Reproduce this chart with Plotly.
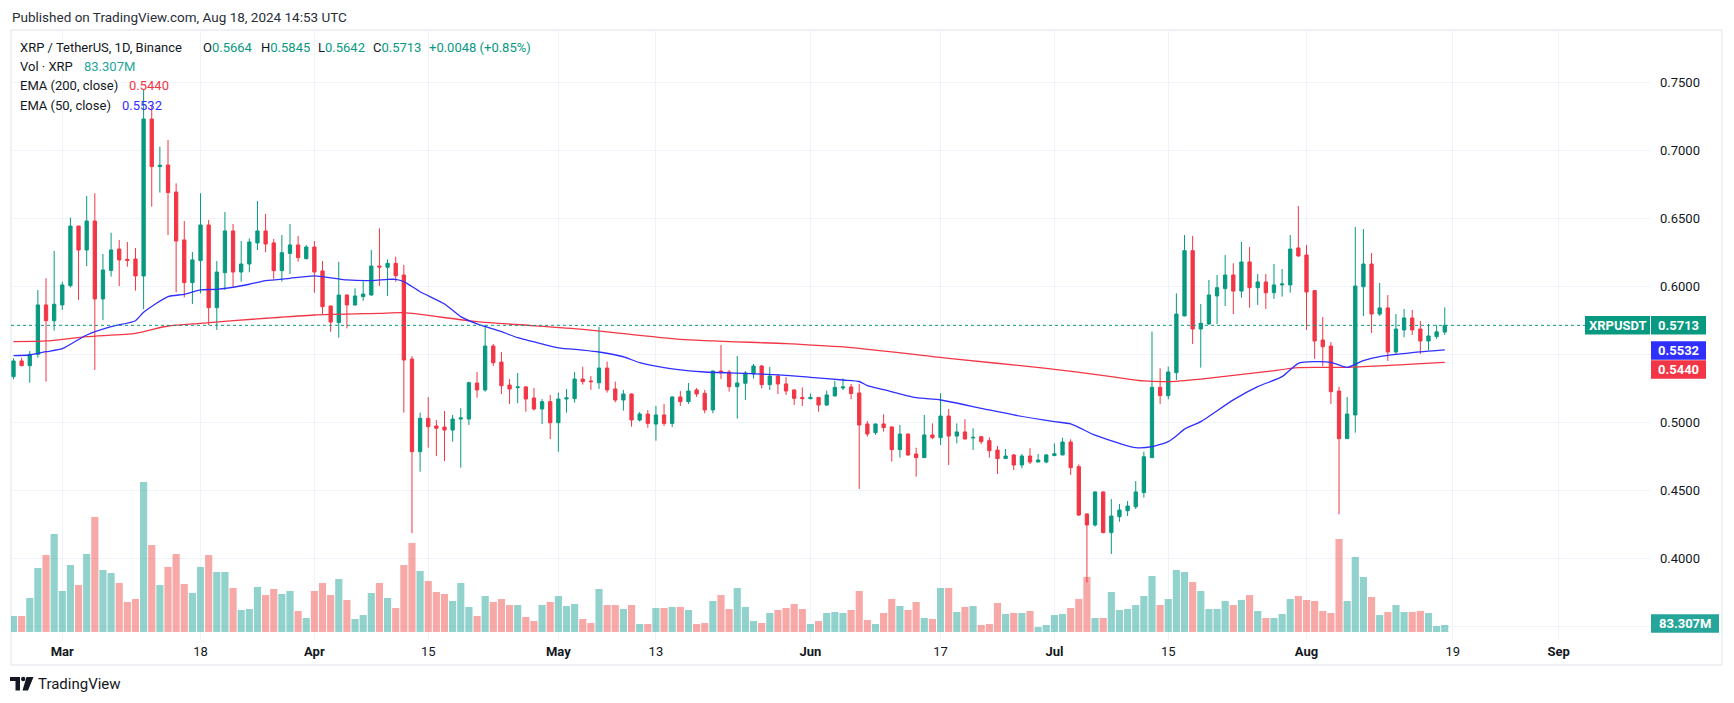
import pandas as pd
import plotly.graph_objects as go

# ---------------- data ----------------
start_date = "2024-02-24"

open_ = [0.5336,0.5451,0.5416,0.5500,0.5863,0.5747,0.5863,0.6005,0.6443,0.6267,
         0.6480,0.5907,0.6117,0.6274,0.6198,0.6201,0.6076,0.7230,0.6880,0.6892,
         0.6693,0.6341,0.6027,0.6189,0.6451,0.5843,0.6100,0.6407,0.6105,0.6164,
         0.6319,0.6407,0.6319,0.6115,0.6242,0.6304,0.6203,0.6289,0.6113,0.5855,
         0.5733,0.5936,0.5863,0.5924,0.5936,0.6149,0.6140,0.6169,0.6083,0.5465,
         0.4784,0.5029,0.4973,0.4965,0.4943,0.5024,0.5024,0.5289,0.5238,0.5561,
         0.5443,0.5274,0.5255,0.5260,0.5179,0.5098,0.5152,0.4997,0.5171,0.5174,
         0.5318,0.5304,0.5291,0.5399,0.5245,0.5164,0.5208,0.5017,0.5061,0.4987,
         0.5054,0.4992,0.5186,0.5152,0.5238,0.5213,0.5091,0.5377,0.5370,0.5262,
         0.5287,0.5355,0.5414,0.5277,0.5340,0.5282,0.5238,0.5183,0.5174,0.5183,
         0.5127,0.5194,0.5252,0.5260,0.5216,0.4988,0.4924,0.4988,0.4966,0.4799,
         0.4914,0.4767,0.4740,0.4907,0.4887,0.5046,0.4899,0.4929,0.4885,0.4894,
         0.4865,0.4796,0.4733,0.4760,0.4686,0.4752,0.4708,0.4708,0.4755,0.4760,
         0.4855,0.4674,0.4326,0.4245,0.4488,0.4189,0.4306,0.4350,0.4379,0.4483,
         0.4740,0.5257,0.5196,0.5365,0.5782,0.6262,0.5686,0.5723,0.5929,0.5983,
         0.6083,0.5965,0.6179,0.5990,0.6032,0.5953,0.6010,0.6010,0.6282,0.6230,
         0.5968,0.5605,0.5561,0.5230,0.4880,0.5054,0.5997,0.6164,0.5796,0.5841,
         0.5517,0.5679,0.5767,0.5686,0.5598,0.5630,0.5664]
high = [0.5470,0.5475,0.5524,0.5973,0.6059,0.6260,0.6034,0.6505,0.6445,0.6664,
        0.6684,0.6237,0.6394,0.6341,0.6326,0.6282,0.7450,0.7330,0.7027,0.7076,
        0.6757,0.6480,0.6252,0.6684,0.6488,0.6186,0.6546,0.6458,0.6333,0.6353,
        0.6627,0.6532,0.6348,0.6377,0.6458,0.6370,0.6304,0.6333,0.6186,0.5858,
        0.6181,0.5940,0.5985,0.6037,0.6267,0.6426,0.6198,0.6218,0.6157,0.5487,
        0.5071,0.5186,0.5017,0.5083,0.5054,0.5103,0.5299,0.5370,0.5716,0.5576,
        0.5517,0.5318,0.5362,0.5267,0.5252,0.5171,0.5201,0.5218,0.5245,0.5370,
        0.5409,0.5340,0.5703,0.5446,0.5299,0.5238,0.5212,0.5076,0.5090,0.5120,
        0.5135,0.5193,0.5230,0.5289,0.5252,0.5238,0.5380,0.5568,0.5385,0.5487,
        0.5377,0.5429,0.5421,0.5407,0.5355,0.5333,0.5240,0.5257,0.5213,0.5186,
        0.5233,0.5304,0.5323,0.5282,0.5282,0.5010,0.4990,0.5059,0.4968,0.4980,
        0.4916,0.4813,0.5054,0.4992,0.5213,0.5098,0.4992,0.5022,0.4956,0.4899,
        0.4890,0.4826,0.4804,0.4767,0.4767,0.4809,0.4767,0.4767,0.4845,0.4887,
        0.4875,0.4691,0.4331,0.4490,0.4492,0.4436,0.4399,0.4421,0.4568,0.4784,
        0.5667,0.5397,0.5409,0.5948,0.6377,0.6370,0.5870,0.6047,0.6083,0.6230,
        0.6169,0.6326,0.6289,0.6091,0.6091,0.6164,0.6127,0.6377,0.6590,0.6304,
        0.5973,0.5774,0.5590,0.5262,0.5186,0.6436,0.6421,0.6245,0.6024,0.5936,
        0.5796,0.5833,0.5826,0.5745,0.5723,0.5715,0.5845]
low = [0.5316,0.5416,0.5291,0.5475,0.5299,0.5674,0.5826,0.5992,0.5899,0.6149,
       0.5385,0.5752,0.6071,0.6002,0.6144,0.5968,0.5831,0.6586,0.6689,0.6377,
       0.5956,0.5919,0.5870,0.5948,0.5715,0.5679,0.5973,0.5997,0.6034,0.6103,
       0.6267,0.6250,0.6054,0.6034,0.6091,0.6181,0.6198,0.5953,0.5794,0.5666,
       0.5622,0.5691,0.5855,0.5894,0.5930,0.6002,0.5929,0.6034,0.5071,0.4185,
       0.4637,0.4813,0.4752,0.4715,0.4858,0.4666,0.4980,0.5181,0.5225,0.5414,
       0.5208,0.5135,0.5140,0.5078,0.5086,0.4987,0.4877,0.4784,0.5071,0.5144,
       0.5277,0.5238,0.5245,0.5218,0.5147,0.5086,0.4968,0.5005,0.4960,0.4865,
       0.4973,0.4965,0.5120,0.5135,0.5186,0.5066,0.5066,0.5318,0.5225,0.5027,
       0.5164,0.5321,0.5250,0.5238,0.5208,0.5201,0.5127,0.5120,0.5169,0.5078,
       0.5120,0.5189,0.5237,0.5169,0.4510,0.4895,0.4907,0.4931,0.4711,0.4740,
       0.4752,0.4600,0.4738,0.4875,0.4833,0.4686,0.4845,0.4875,0.4796,0.4840,
       0.4740,0.4620,0.4730,0.4649,0.4662,0.4693,0.4706,0.4698,0.4753,0.4758,
       0.4613,0.4311,0.3822,0.4233,0.4184,0.4032,0.4269,0.4311,0.4362,0.4446,
       0.4738,0.5134,0.5169,0.5311,0.5780,0.5576,0.5402,0.5715,0.5723,0.5855,
       0.5796,0.5916,0.5843,0.5863,0.5833,0.5907,0.5924,0.5953,0.6218,0.5679,
       0.5466,0.5414,0.5135,0.4323,0.4878,0.4924,0.5782,0.5657,0.5782,0.5451,
       0.5502,0.5625,0.5642,0.5502,0.5532,0.5613,0.5642]
close = [0.5451,0.5416,0.5500,0.5863,0.5747,0.5868,0.6010,0.6443,0.6267,0.6480,
         0.5907,0.6120,0.6267,0.6194,0.6190,0.6076,0.7230,0.6880,0.6890,0.6689,
         0.6333,0.6027,0.6194,0.6451,0.5843,0.6105,0.6407,0.6105,0.6164,0.6326,
         0.6407,0.6311,0.6115,0.6247,0.6304,0.6211,0.6289,0.6105,0.5850,0.5737,
         0.5936,0.5863,0.5929,0.5943,0.6149,0.6142,0.6169,0.6078,0.5458,0.4784,
         0.5029,0.4968,0.4956,0.4943,0.5024,0.5032,0.5291,0.5238,0.5561,0.5438,
         0.5269,0.5245,0.5260,0.5171,0.5098,0.5152,0.4997,0.5171,0.5179,0.5318,
         0.5299,0.5299,0.5399,0.5238,0.5164,0.5208,0.5017,0.5061,0.4992,0.5054,
         0.4992,0.5186,0.5152,0.5230,0.5208,0.5091,0.5377,0.5370,0.5262,0.5289,
         0.5362,0.5414,0.5277,0.5340,0.5282,0.5230,0.5176,0.5174,0.5183,0.5127,
         0.5201,0.5257,0.5260,0.5211,0.4980,0.4914,0.4988,0.4961,0.4799,0.4914,
         0.4760,0.4740,0.4907,0.4887,0.5046,0.4899,0.4929,0.4877,0.4889,0.4858,
         0.4791,0.4733,0.4752,0.4686,0.4752,0.4708,0.4723,0.4760,0.4769,0.4855,
         0.4666,0.4318,0.4245,0.4488,0.4189,0.4311,0.4355,0.4384,0.4488,0.4747,
         0.5257,0.5196,0.5370,0.5796,0.6262,0.5686,0.5728,0.5936,0.5990,0.6083,
         0.5965,0.6179,0.5990,0.6032,0.5953,0.6010,0.6017,0.6274,0.6223,0.5958,
         0.5598,0.5556,0.5225,0.4880,0.5061,0.6002,0.6164,0.5796,0.5841,0.5517,
         0.5686,0.5767,0.5679,0.5598,0.5635,0.5665,0.5713]
volume_m = [190,190,405,762,916,1166,488,797,559,928,
            1369,738,702,583,357,393,1785,1035,559,774,
            928,571,464,774,916,714,714,524,262,274,
            536,440,512,452,488,250,167,488,583,440,
            631,381,155,202,464,583,405,286,797,1059,
            726,607,476,452,369,583,298,190,428,357,
            393,321,321,179,131,321,357,428,309,333,
            155,107,512,321,321,274,321,95,95,286,
            286,298,298,262,95,107,369,440,274,524,
            298,131,107,226,262,286,333,274,95,131,
            226,238,226,262,488,143,95,226,393,309,
            262,357,167,155,524,524,238,298,309,83,
            95,345,214,226,226,250,60,83,202,214,
            286,393,655,167,167,476,262,274,321,428,
            666,321,393,738,714,595,488,274,274,369,
            321,381,440,250,167,167,214,393,428,381,
            369,250,226,1107,369,893,655,417,202,238,
            321,238,238,250,226,71,83.3]

# EMA readings (day offset from start_date, value)
ema50_day = [0,2,4,6,9,12,15,16,19,21,23,25,27,29,31,34,37,38,41,44,46,47,48,50,53,55,57,60,
             62,65,67,70,72,75,77,80,82,85,90,94,97,98,102,104,105,107,111,114,119,123,128,
             130,133,136,138,140,142,143,144,146,150,153,156,158,160,162,164,166,168,172,176]
ema50_val = [0.5490,0.5495,0.5519,0.5541,0.5642,0.5703,0.5747,0.5809,0.5924,0.5941,0.5973,
             0.5978,0.5993,0.6015,0.6041,0.6059,0.6076,0.6071,0.6047,0.6042,0.6051,0.6051,
             0.6034,0.5960,0.5870,0.5777,0.5723,0.5666,0.5622,0.5576,0.5548,0.5531,0.5517,
             0.5482,0.5438,0.5402,0.5385,0.5370,0.5360,0.5348,0.5336,0.5331,0.5311,0.5300,
             0.5270,0.5240,0.5181,0.5164,0.5103,0.5054,0.5005,0.4988,0.4905,0.4845,0.4814,
             0.4821,0.4858,0.4900,0.4950,0.5005,0.5165,0.5262,0.5336,0.5434,0.5446,0.5441,
             0.5404,0.5453,0.5483,0.5512,0.5532]
ema200_day = [0,4,9,15,19,23,31,37,45,48,57,70,82,95,103,115,127,135,139,142,146,154,158,164,176]
ema200_val = [0.5593,0.5598,0.5630,0.5654,0.5708,0.5728,0.5765,0.5789,0.5801,0.5806,0.5740,
              0.5684,0.5610,0.5578,0.5549,0.5470,0.5397,0.5336,0.5304,0.5299,0.5318,0.5372,
              0.5402,0.5404,0.5440]

tick_dates = ["2024-03-01","2024-03-18","2024-04-01","2024-04-15","2024-05-01","2024-05-13",
              "2024-06-01","2024-06-17","2024-07-01","2024-07-15","2024-08-01","2024-08-19",
              "2024-09-01"]
tick_labels = ["<b>Mar</b>","18","<b>Apr</b>","15","<b>May</b>","13","<b>Jun</b>","17",
               "<b>Jul</b>","15","<b>Aug</b>","19","<b>Sep</b>"]
price_ticks = [0.35,0.40,0.45,0.50,0.55,0.60,0.65,0.70,0.75]
price_tick_labels = ["","0.4000","0.4500","0.5000","","0.6000","0.6500","0.7000","0.7500"]

last_price = 0.5713
ema50_last = 0.5532
ema200_last = 0.5440
vol_last_label = "83.307M"

# ---------------- layout geometry ----------------
W, H = 1734, 703
PL, PR, PT, PB = 11, 1650, 30, 640   # plot area in pixels
UP, DOWN = "#089981", "#f23645"
BLUE = "#2f2fff"
TXT = "#131722"
GRID = "#f0f3fa"
FONT = "Roboto, 'Open Sans', sans-serif"

def fx(px):
    return (px - PL) / (PR - PL)

def fy(py):
    return (PB - py) / (PB - PT)

def dstr(ts):
    return ts.strftime("%Y-%m-%d %H:%M:%S")

start = pd.Timestamp(start_date)
dates = [dstr(d) for d in pd.date_range(start, periods=len(close), freq="D")]
ema50_x = [dstr(start + pd.Timedelta(days=d)) for d in ema50_day]
ema200_x = [dstr(start + pd.Timedelta(days=d)) for d in ema200_day]

x_left = dstr(start + pd.Timedelta(days=-0.307))
x_right = dstr(start + pd.Timedelta(days=201.24))

price_lo = 0.6 - (PB - 286.3) / 1360
price_hi = 0.6 + (286.3 - PT) / 1360
vol_per_px = 11.9
vol_lo = -(PB - 632) * vol_per_px
vol_hi = vol_lo + (PB - PT) * vol_per_px

vol_colors = ["rgba(38,166,154,0.5)" if c >= o else "rgba(239,83,80,0.5)"
              for o, c in zip(open_, close)]

fig = go.Figure()
fig.add_trace(go.Bar(x=dates, y=volume_m, marker=dict(color=vol_colors, line=dict(width=0)),
                     yaxis="y", hoverinfo="skip", showlegend=False))
fig.add_trace(go.Candlestick(x=dates, open=open_, high=high, low=low, close=close,
                             yaxis="y2", showlegend=False,
                             increasing=dict(line=dict(color=UP, width=1), fillcolor=UP),
                             decreasing=dict(line=dict(color=DOWN, width=1), fillcolor=DOWN)))
fig.add_trace(go.Scatter(x=ema200_x, y=ema200_val, mode="lines", yaxis="y2",
                         line=dict(color=DOWN, width=1.3, shape="spline", smoothing=0.6),
                         showlegend=False))
fig.add_trace(go.Scatter(x=ema50_x, y=ema50_val, mode="lines", yaxis="y2",
                         line=dict(color=BLUE, width=1.3, shape="spline", smoothing=0.6),
                         showlegend=False))

shapes = []
# outer frame
shapes.append(dict(type="rect", xref="paper", yref="paper", x0=fx(11), x1=fx(1722),
                   y0=fy(665), y1=fy(30), line=dict(color="#e0e3eb", width=1), layer="below"))
# last price dotted line
shapes.append(dict(type="line", xref="paper", yref="y2", x0=0, x1=fx(1585),
                   y0=last_price, y1=last_price, line=dict(color=UP, width=1, dash="dot")))

annotations = []

def box_label(x0, x1, yc, text, color, h=18.5):
    shapes.append(dict(type="rect", xref="paper", yref="paper", x0=fx(x0), x1=fx(x1),
                       y0=fy(yc + h / 2), y1=fy(yc - h / 2), fillcolor=color,
                       line=dict(width=0), layer="above"))
    annotations.append(dict(xref="paper", yref="paper", x=fx((x0 + x1) / 2), y=fy(yc),
                            text="<b>%s</b>" % text, showarrow=False, xanchor="center",
                            yanchor="middle", font=dict(family=FONT, size=13, color="white")))

y_last = 286.3 + (0.6 - last_price) * 1360
box_label(1585, 1650, y_last, "XRPUSDT", UP)
box_label(1651, 1706, y_last, "%.4f" % last_price, UP)
box_label(1651, 1706, 350.5, "%.4f" % ema50_last, BLUE)
box_label(1651, 1706, 369.5, "%.4f" % ema200_last, DOWN)
box_label(1651, 1719, 623.6, vol_last_label, "#26a69a")

def txt(xp, yp, text, color=TXT, size=13):
    annotations.append(dict(xref="paper", yref="paper", x=fx(xp), y=fy(yp), text=text,
                            showarrow=False, xanchor="left", yanchor="middle",
                            font=dict(family=FONT, size=size, color=color)))

txt(10, 16.7, "Published on TradingView.com, Aug 18, 2024 14:53 UTC", "#2a2e39", 13.5)
txt(18, 47.7, "XRP / TetherUS, 1D, Binance")
v = "<span style='color:%s'>%s</span>"
txt(201, 47.7, "O" + v % (UP, "%.4f" % open_[-1]))
txt(258.5, 47.7, "H" + v % (UP, "%.4f" % high[-1]))
txt(316, 47.7, "L" + v % (UP, "%.4f" % low[-1]))
txt(371, 47.7, "C" + v % (UP, "%.4f" % close[-1]))
chg = close[-1] - close[-2]
txt(427.5, 47.7, "%+.4f (%+.2f%%)" % (chg, chg / close[-2] * 100), UP)
txt(18, 66.7, "Vol · XRP")
txt(82, 66.7, vol_last_label, "#26a69a")
txt(18, 86, "EMA (200, close)")
txt(127, 86, "%.4f" % ema200_last, DOWN)
txt(18, 105, "EMA (50, close)")
txt(120, 105, "%.4f" % ema50_last, BLUE)

# TradingView logo (bottom left)
def path(points):
    s = "M " + " L ".join("%f,%f" % (fx(a), fy(b)) for a, b in points) + " Z"
    return dict(type="path", xref="paper", yref="paper", path=s,
                fillcolor="#131722", line=dict(width=0))
shapes.append(path([(10, 677), (20, 677), (20, 690.5), (15.5, 690.5), (15.5, 681), (10, 681)]))
shapes.append(dict(type="circle", xref="paper", yref="paper", x0=fx(21), x1=fx(25.4),
                   y0=fy(681.2), y1=fy(676.8), fillcolor="#131722", line=dict(width=0)))
shapes.append(path([(26.5, 677), (33.5, 677), (28, 690.5), (22.5, 690.5)]))
txt(36, 683.5, "TradingView", TXT, 15)

fig.update_layout(
    width=W, height=H,
    margin=dict(l=PL, r=W - PR, t=PT, b=H - PB, pad=0),
    paper_bgcolor="white", plot_bgcolor="white",
    showlegend=False, hovermode=False,
    bargap=0.12, boxgap=0.42,
    font=dict(family=FONT, size=13, color=TXT),
    xaxis=dict(type="date", range=[x_left, x_right], tickmode="array",
               tickvals=tick_dates, ticktext=tick_labels, showgrid=True,
               gridcolor=GRID, gridwidth=1, zeroline=False, showline=False, ticks="",
               tickfont=dict(family=FONT, size=13, color=TXT), rangeslider=dict(visible=False),
               automargin=False, fixedrange=True, ticklabelstandoff=2),
    yaxis=dict(range=[vol_lo, vol_hi], visible=False, showgrid=False, zeroline=False,
               automargin=False, fixedrange=True),
    yaxis2=dict(overlaying="y", side="right", range=[price_lo, price_hi], tickmode="array",
                tickvals=price_ticks, ticktext=price_tick_labels, showgrid=True,
                gridcolor=GRID, gridwidth=1, zeroline=False, showline=False, ticks="",
                tickfont=dict(family=FONT, size=13, color=TXT), automargin=False,
                fixedrange=True, ticklabelstandoff=9),
    shapes=shapes, annotations=annotations,
)

fig.write_html("out.html", config={"displayModeBar": False},
               post_script="document.body.style.margin='0';document.body.style.overflow='hidden';")
